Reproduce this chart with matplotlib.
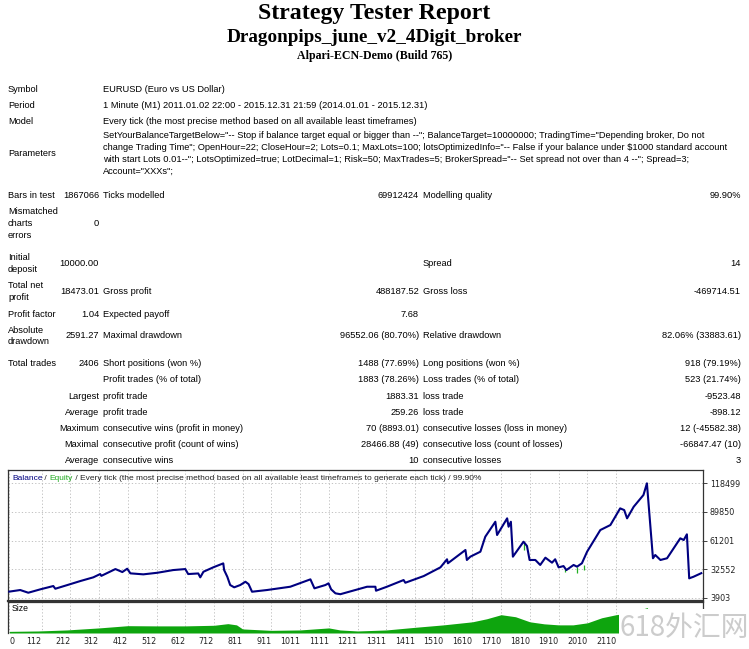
import matplotlib
matplotlib.use("Agg")
import matplotlib.pyplot as plt
from matplotlib.patches import Rectangle

W, H = 749, 649
fig = plt.figure(figsize=(W / 100, H / 100), dpi=100)
fig.patch.set_facecolor("white")

# ---------------- data ----------------
titles = ["Strategy Tester Report", "Dragonpips_june_v2_4Digit_broker", "Alpari-ECN-Demo (Build 765)"]

balance_trades = [0, 38, 66, 108, 153, 160, 202, 247, 292, 316, 320, 369, 393, 410, 421, 466, 515, 570,
                  612, 622, 657, 664, 675, 709, 744, 747, 758, 768, 782, 803, 821, 832, 844, 896, 977,
                  1047, 1061, 1099, 1110, 1119, 1134, 1151, 1244, 1273, 1275, 1313, 1371, 1377, 1441,
                  1499, 1522, 1525, 1586, 1591, 1603, 1638, 1655, 1690, 1696, 1731, 1736, 1744, 1751,
                  1788, 1800, 1809, 1829, 1846, 1864, 1887, 1898, 1910, 1927, 1937, 1962, 1974, 1991,
                  2009, 2055, 2090, 2124, 2138, 2148, 2171, 2205, 2217, 2231, 2238, 2246, 2264, 2287,
                  2333, 2345, 2356, 2364, 2379, 2406]
balance_values = [10000, 11600, 8900, 12300, 15600, 12900, 16600, 20600, 24300, 27600, 25800, 32600,
                  29600, 32950, 28300, 27300, 28900, 31600, 32600, 27600, 28200, 24300, 29900, 34300,
                  38300, 31600, 24900, 16600, 14300, 16600, 19900, 17500, 9900, 11600, 14900, 22300,
                  13300, 16600, 18300, 12300, 8300, 7409, 14900, 14900, 10900, 14900, 21600, 18900,
                  25600, 34300, 42400, 38400, 51700, 41700, 45000, 50000, 65000, 80000, 66700, 83400,
                  75000, 80000, 45000, 60000, 55700, 41700, 41700, 36700, 44000, 39000, 42400, 34300,
                  35600, 31600, 36700, 35000, 38400, 50000, 71700, 76700, 93400, 91700, 83400, 95000,
                  106800, 118499, 68400, 43400, 46700, 41700, 43400, 63400, 61700, 67400, 23300,
                  24900, 28473]

# equity dips below balance: trade, balance level, equity low
equity_dip_trades = [1788, 1931, 1975, 1999]
equity_dip_high = [60000, 33000, 35000, 37000]
equity_dip_low = [51500, 29500, 29000, 31500]

size_trades = [0, 100, 200, 312, 412, 512, 612, 712, 760, 790, 811, 911, 1011, 1111, 1150, 1211,
               1311, 1411, 1510, 1610, 1660, 1710, 1760, 1810, 1860, 1910, 1960, 2010, 2060, 2110,
               2160, 2218, 2240, 2300, 2356, 2370, 2406]
size_values = [0.8, 1.0, 1.5, 2.5, 3.6, 3.5, 3.5, 3.8, 4.6, 4.0, 2.0, 1.3, 1.5, 2.5, 1.5, 1.0,
               1.5, 2.8, 4.0, 5.5, 7.0, 9.0, 8.0, 5.5, 4.5, 4.0, 4.0, 5.0, 7.5, 9.0,
               10.0, 12.5, 6.5, 7.0, 8.5, 3.5, 3.5]

y_ticks = [3903, 32552, 61201, 89850, 118499]
x_tick_labels = ["0", "112", "212", "312", "412", "512", "612", "712", "811", "911", "1011", "1111",
                 "1211", "1311", "1411", "1510", "1610", "1710", "1810", "1910", "2010", "2110"]

# ---------------- helpers ----------------
def fx(x):
    return x / W

def fy(y):
    return 1 - y / H

TF = "Liberation Sans"
TS = 6.7

def T(x, y, s, ha="left", size=TS, **kw):
    return fig.text(fx(x), fy(y), s, ha=ha, va="center", fontsize=size, family=TF,
                    parse_math=False, **kw)

# ---------------- titles ----------------
fig.text(0.5, fy(14), titles[0], ha="center", va="center", family="Liberation Serif",
         weight="bold", fontsize=17.2)
fig.text(0.5, fy(38), titles[1], ha="center", va="center", family="Liberation Serif",
         weight="bold", fontsize=13.8)
fig.text(0.5, fy(56), titles[2], ha="center", va="center", family="Liberation Serif",
         weight="bold", fontsize=8.6)

# ---------------- table ----------------
L, C1, C1R, C2R, C3, C3R = 8, 103, 99, 419, 423, 741
T(L, 90, "Symbol"); T(C1, 90, "EURUSD (Euro vs US Dollar)")
T(L, 105.5, "Period"); T(C1, 105.5, "1 Minute (M1) 2011.01.02 22:00 - 2015.12.31 21:59 (2014.01.01 - 2015.12.31)")
T(L, 121.5, "Model"); T(C1, 121.5, "Every tick (the most precise method based on all available least timeframes)")
T(L, 154, "Parameters")
params = [
    'SetYourBalanceTargetBelow="-- Stop if balance target equal or bigger than --"; BalanceTarget=10000000; TradingTime="Depending broker, Do not',
    'change Trading Time"; OpenHour=22; CloseHour=2; Lots=0.1; MaxLots=100; lotsOptimizedInfo="-- False if your balance under $1000 standard account',
    'with start Lots 0.01--"; LotsOptimized=true; LotDecimal=1; Risk=50; MaxTrades=5; BrokerSpread="-- Set spread not over than 4 --"; Spread=3;',
    'Account="XXXs";',
]
for i, p in enumerate(params):
    T(C1, 136 + i * 11.8, p)

T(L, 195, "Bars in test"); T(C1R, 195, "1867066", ha="right"); T(C1, 195, "Ticks modelled")
T(C2R, 195, "69912424", ha="right"); T(C3, 195, "Modelling quality"); T(C3R, 195, "99.90%", ha="right")

T(L, 212, "Mismatched"); T(L, 223.5, "charts"); T(L, 235, "errors"); T(C1R, 223.5, "0", ha="right")

T(L, 258, "Initial"); T(L, 269.5, "deposit"); T(C1R, 264, "10000.00", ha="right")
T(C3, 264, "Spread"); T(C3R, 264, "14", ha="right")

T(L, 286, "Total net"); T(L, 297.5, "profit"); T(C1R, 292, "18473.01", ha="right")
T(C1, 292, "Gross profit"); T(C2R, 292, "488187.52", ha="right")
T(C3, 292, "Gross loss"); T(C3R, 292, "-469714.51", ha="right")

T(L, 314, "Profit factor"); T(C1R, 314, "1.04", ha="right")
T(C1, 314, "Expected payoff"); T(C2R, 314, "7.68", ha="right")

T(L, 330.5, "Absolute"); T(L, 342, "drawdown"); T(C1R, 336, "2591.27", ha="right")
T(C1, 336, "Maximal drawdown"); T(C2R, 336, "96552.06 (80.70%)", ha="right")
T(C3, 336, "Relative drawdown"); T(C3R, 336, "82.06% (33883.61)", ha="right")

rows = [
    (364, "Total trades", "2406", "Short positions (won %)", "1488 (77.69%)", "Long positions (won %)", "918 (79.19%)"),
    (380, "", "", "Profit trades (% of total)", "1883 (78.26%)", "Loss trades (% of total)", "523 (21.74%)"),
    (396.5, "", "Largest", "profit trade", "1883.31", "loss trade", "-9523.48"),
    (412.5, "", "Average", "profit trade", "259.26", "loss trade", "-898.12"),
    (428.5, "", "Maximum", "consecutive wins (profit in money)", "70 (8893.01)", "consecutive losses (loss in money)", "12 (-45582.38)"),
    (444.5, "", "Maximal", "consecutive profit (count of wins)", "28466.88 (49)", "consecutive loss (count of losses)", "-66847.47 (10)"),
    (460.5, "", "Average", "consecutive wins", "10", "consecutive losses", "3"),
]
for y, a, b, c, d, e, f in rows:
    if a:
        T(L, y, a)
    if b:
        T(C1R, y, b, ha="right")
    T(C1, y, c); T(C2R, y, d, ha="right"); T(C3, y, e); T(C3R, y, f, ha="right")

# ---------------- chart ----------------
def axes_px(l, t, r, b):
    return fig.add_axes([fx(l), fy(b), (r - l) / W, (b - t) / H])

ax = axes_px(8, 470, 703, 601)
axs = axes_px(8, 602, 703, 633)

step = y_ticks[1] - y_ticks[0]
xlim = (-4.5, 2412)

ax.plot(balance_trades, balance_values, color="#000080", lw=1.5, zorder=3)
ax.vlines(equity_dip_trades, equity_dip_low, equity_dip_high, color="#22b022", lw=0.9, zorder=2)
ax.set_xlim(*xlim)
ax.set_ylim(y_ticks[0] - 0.115 * step, y_ticks[-1] + 0.465 * step)
ax.set_yticks(y_ticks)
ax.set_yticklabels([str(v) for v in y_ticks])
ax.yaxis.tick_right()
ax.tick_params(axis="y", length=3, width=0.6, pad=2, labelsize=5.8, colors="#222222")
xt = [int(s) for s in x_tick_labels]
ax.set_xticks(xt)
ax.tick_params(axis="x", length=0, labelbottom=False)
ax.grid(True, color="#b8b8b8", ls=(0, (1.5, 2.5)), lw=0.6)
for s in ax.spines.values():
    s.set_color("#333333"); s.set_linewidth(0.9)
ax.spines["bottom"].set_linewidth(1.6)

axs.fill_between(size_trades, 0, size_values, color="#0ea50e", lw=0, zorder=2)
axs.set_xlim(*xlim)
axs.set_ylim(0, 15.25)
axs.set_yticks([])
axs.set_xticks(xt)
axs.set_xticklabels(x_tick_labels)
axs.tick_params(axis="x", length=0, pad=3, labelsize=5.8, colors="#222222")
for lab in axs.get_xticklabels():
    lab.set_ha("right")
axs.get_xticklabels()[0].set_ha("left")
axs.grid(True, axis="x", color="#b8b8b8", ls=(0, (1.5, 2.5)), lw=0.6)
for k, s in axs.spines.items():
    s.set_color("#333333"); s.set_linewidth(0.9)
axs.spines["bottom"].set_visible(False)
axs.text(4 / 695, 0.78, "Size", transform=axs.transAxes, fontsize=6.2, family=TF,
         va="center", ha="left")

# legend-like header text
fig.canvas.draw()
r = fig.canvas.get_renderer()
parts = [("Balance", "#000080"), (" / ", "#222222"), ("Equity", "#22aa22"),
         (" / Every tick (the most precise method based on all available least timeframes to generate each tick) / 99.90%", "#222222")]
x = 12
for s, c in parts:
    t = T(x, 479, s, size=6.0, color=c)
    bb = t.get_window_extent(renderer=r)
    x += bb.width

# watermark box
fig.add_artist(Rectangle((fx(619), 0), 1 - fx(619), fy(609), transform=fig.transFigure,
                         facecolor="white", edgecolor="none", zorder=10))
fig.text(fx(684), fy(628), "618外汇网", ha="center", va="center", fontsize=20,
         family=["Noto Sans CJK SC", "DejaVu Sans"], color="#cccccc", zorder=11)

fig.savefig("out.png", dpi=100)
